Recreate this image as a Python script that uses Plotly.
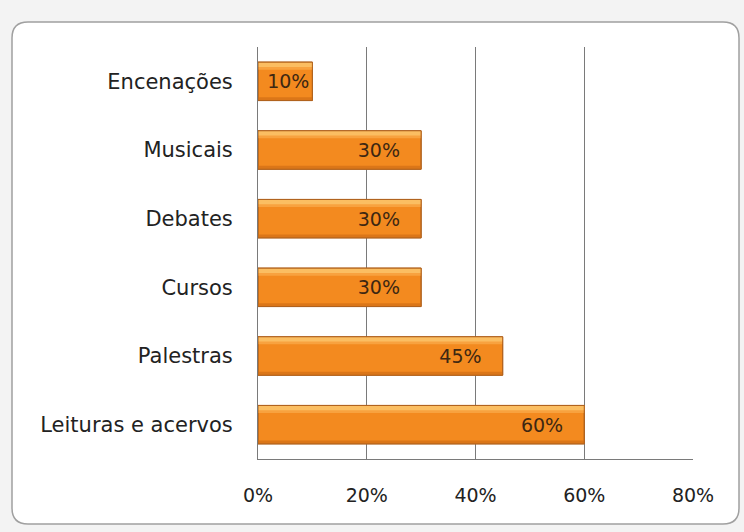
import plotly.graph_objects as go

categories = ["Leituras e acervos", "Palestras", "Cursos", "Debates", "Musicais", "Encenações"]
values = [0.60, 0.45, 0.30, 0.30, 0.30, 0.10]
labels = ["60%", "45%", "30%", "30%", "30%", "10%"]
x_ticks = [0, 0.2, 0.4, 0.6, 0.8]
x_tick_labels = ["0%", "20%", "40%", "60%", "80%"]

W, H = 744, 532
L, R, T, B = 258, 693, 47, 459
FONT = "DejaVu Sans"

fig = go.Figure()
fig.add_trace(go.Bar(
    y=categories, x=values, orientation="h", width=0.56,
    marker=dict(color="#F38A1F", line=dict(color="#B0621E", width=1)),
    hoverinfo="skip", showlegend=False,
))
# shading stripes (gradient look)
for off, wd, col in [(0.17, 0.10, "#F8A23F"), (0.21, 0.065, "#FBBE62"),
                     (-0.28, 0.05, "#DB7618")]:
    fig.add_trace(go.Bar(
        y=categories, x=values, orientation="h", width=wd, offset=off,
        marker=dict(color=col, line=dict(width=0)),
        hoverinfo="skip", showlegend=False,
    ))
# labels on top
pad = ["%{text}\u00a0\u00a0\u00a0"] * 5 + ["%{text}"]
fig.add_trace(go.Bar(
    y=categories, x=values, orientation="h", width=0.56,
    marker=dict(color="rgba(0,0,0,0)", line=dict(color="#B0621E", width=1)),
    text=labels, texttemplate=pad, textposition="inside",
    insidetextanchor="end", constraintext="none",
    textfont=dict(family=FONT, size=19, color="#3D2712"),
    hoverinfo="skip", showlegend=False,
))

# rounded frame
def px(x):
    return (x - L) / (R - L)
def py(y):
    return (B - y) / (B - T)
x0, x1, y0, y1 = px(12), px(739), py(524), py(22)
rx, ry = 16 / (R - L), 16 / (B - T)
path = (f"M {x0+rx},{y1} L {x1-rx},{y1} Q {x1},{y1} {x1},{y1-ry} "
        f"L {x1},{y0+ry} Q {x1},{y0} {x1-rx},{y0} L {x0+rx},{y0} "
        f"Q {x0},{y0} {x0},{y0+ry} L {x0},{y1-ry} Q {x0},{y1} {x0+rx},{y1} Z")
fig.add_shape(type="path", path=path, xref="paper", yref="paper",
              fillcolor="white", line=dict(color="#A0A0A0", width=1.5), layer="below")

fig.update_layout(
    width=W, height=H,
    margin=dict(l=L, r=W - R, t=T, b=H - B),
    paper_bgcolor="#F3F3F3", plot_bgcolor="rgba(0,0,0,0)",
    barmode="overlay",
    font=dict(family=FONT, size=19, color="#222222"),
    xaxis=dict(range=[0, 0.8], tickvals=x_ticks, ticktext=x_tick_labels,
               showgrid=True, gridcolor="#7A7A7A", gridwidth=1,
               showline=True, linecolor="#7A7A7A", linewidth=1,
               ticks="", ticklen=0, zeroline=False, fixedrange=True,
               tickfont=dict(family=FONT, size=19, color="#222222"), ticklabelstandoff=19),
    yaxis=dict(type="category", categoryorder="array", categoryarray=categories,
               showgrid=False, showline=True, linecolor="#7A7A7A", linewidth=1,
               ticks="", zeroline=False, fixedrange=True,
               tickfont=dict(family=FONT, size=21, color="#222222"), ticklabelstandoff=20),
)

fig.write_html("out.html")
